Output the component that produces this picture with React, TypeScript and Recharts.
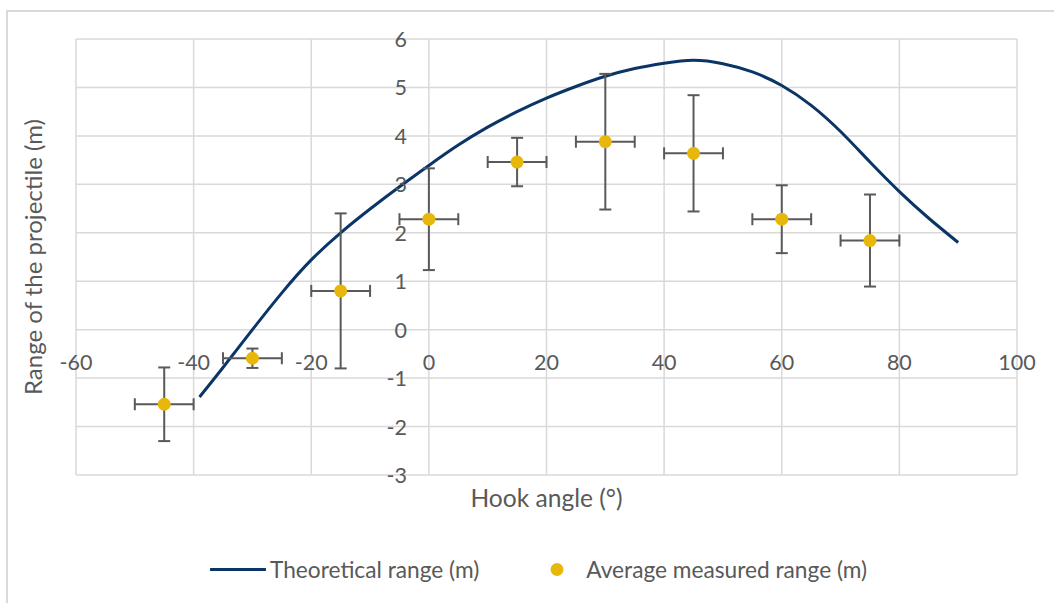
import React from 'react'
import { ComposedChart, Line, Scatter, ErrorBar, XAxis, YAxis, CartesianGrid } from 'recharts'

// theoretical curve, every 5 degrees
const curveAngles = [-39, -35, -30, -25, -20, -15, -10, -5, 0, 5, 10, 15, 20, 25, 30, 35, 40, 45, 50, 55, 60, 65, 70, 75, 80, 85, 90]
const curveRange = [-1.39, -0.78, 0.0, 0.76, 1.44, 2.0, 2.49, 2.95, 3.39, 3.81, 4.18, 4.5, 4.78, 5.02, 5.23, 5.39, 5.5, 5.56, 5.49, 5.32, 5.04, 4.63, 4.09, 3.46, 2.85, 2.3, 1.8]

// measured points with their error bars
const measuredAngles = [-45, -30, -15, 0, 15, 30, 45, 60, 75]
const measuredRange = [-1.54, -0.59, 0.8, 2.28, 3.46, 3.88, 3.64, 2.28, 1.84]
const rangeError = [0.76, 0.2, 1.6, 1.05, 0.5, 1.4, 1.2, 0.7, 0.95]
const angleError = [5, 5, 5, 5, 5, 5, 5, 5, 5]

const xTicks = [-60, -40, -20, 0, 20, 40, 60, 80, 100]
const yTicks = [-3, -2, -1, 0, 1, 2, 3, 4, 5, 6]

const seriesNames = ['Theoretical range (m)', 'Average measured range (m)']
const xTitle = 'Hook angle (°)'
const yTitle = 'Range of the projectile (m)'

const W = 1054
const H = 603
const AX = 30
const M = { top: 39, right: 37, bottom: 128 - AX, left: 76 - AX }
const plotLeft = M.left + AX
const plotW = W - plotLeft - M.right
const plotH = H - M.top - M.bottom - AX
const zeroY = M.top + (plotH * 6) / 9
const zeroX = plotLeft + (plotW * 60) / 160

const navy = '#0a3566'
const gold = '#e8b70c'
const grey = '#595959'
const font = 'Lato, "Open Sans", sans-serif'

const curveData = curveAngles.map((x, i) => ({ x, y: curveRange[i] }))
const measuredData = measuredAngles.map((x, i) => ({
  x,
  y: measuredRange[i],
  ex: angleError[i],
  ey: rangeError[i],
}))

function XTick({ x, payload }: any) {
  return (
    <text x={x} y={zeroY + 32} textAnchor="middle" dominantBaseline="central" fill={grey} fontSize={21.5} fontFamily={font}>
      {payload.value}
    </text>
  )
}

function YTick({ y, payload }: any) {
  return (
    <text x={zeroX - 22} y={y} textAnchor="end" dominantBaseline="central" fill={grey} fontSize={21.5} fontFamily={font}>
      {payload.value}
    </text>
  )
}

export default function App() {
  return (
    <div style={{ position: 'absolute', left: 0, top: 0, width: W, height: H, overflow: 'hidden', background: '#fff', fontFamily: font }}>
      <div style={{ position: 'absolute', left: 6, top: 10, width: W + 20, height: H + 20, border: '2px solid #d9d9d9', boxSizing: 'border-box' }} />
      <div style={{ position: 'absolute', left: 0, top: 0 }}>
        <ComposedChart width={W} height={H} margin={M}>
          <CartesianGrid stroke="#d9d9d9" strokeWidth={1.5} />
          <XAxis
            type="number"
            dataKey="x"
            domain={[-60, 100]}
            ticks={xTicks}
            interval={0}
            height={AX}
            axisLine={false}
            tickLine={false}
            tick={<XTick />}
            allowDataOverflow
          />
          <YAxis
            type="number"
            dataKey="y"
            domain={[-3, 6]}
            ticks={yTicks}
            interval={0}
            width={AX}
            axisLine={false}
            tickLine={false}
            tick={<YTick />}
            allowDataOverflow
          />
          <Line
            data={curveData}
            dataKey="y"
            type="natural"
            stroke={navy}
            strokeWidth={3}
            dot={false}
            activeDot={false}
            isAnimationActive={false}
            name={seriesNames[0]}
          />
          <Scatter data={measuredData} dataKey="y" fill={gold} isAnimationActive={false} name={seriesNames[1]}
            shape={(p: any) => <circle cx={p.cx} cy={p.cy} r={6.5} fill={gold} />}>
            <ErrorBar dataKey="ey" direction="y" width={6} stroke={grey} strokeWidth={2} />
            <ErrorBar dataKey="ex" direction="x" width={6} stroke={grey} strokeWidth={2} />
          </Scatter>
        </ComposedChart>
      </div>
      <div style={{ position: 'absolute', left: 33, top: M.top + plotH / 2, transform: 'translate(-50%, -50%) rotate(-90deg)', whiteSpace: 'nowrap', color: grey, fontSize: 24, lineHeight: 1 }}>
        {yTitle}
      </div>
      <div style={{ position: 'absolute', left: plotLeft + plotW / 2, top: 498, transform: 'translate(-50%, -50%)', whiteSpace: 'nowrap', color: grey, fontSize: 24.6, lineHeight: 1 }}>
        {xTitle}
      </div>
      <div style={{ position: 'absolute', left: 210, top: 569, transform: 'translateY(-50%)', display: 'flex', alignItems: 'center', color: grey, fontSize: 22.7, whiteSpace: 'nowrap' }}>
        <svg width={56} height={10}>
          <line x1={1} y1={5} x2={55} y2={5} stroke={navy} strokeWidth={3} strokeLinecap="round" />
        </svg>
        <span style={{ marginLeft: 4 }}>{seriesNames[0]}</span>
        <svg width={14} height={14} style={{ marginLeft: 71 }}>
          <circle cx={7} cy={7} r={6.5} fill={gold} />
        </svg>
        <span style={{ marginLeft: 22 }}>{seriesNames[1]}</span>
      </div>
    </div>
  )
}
